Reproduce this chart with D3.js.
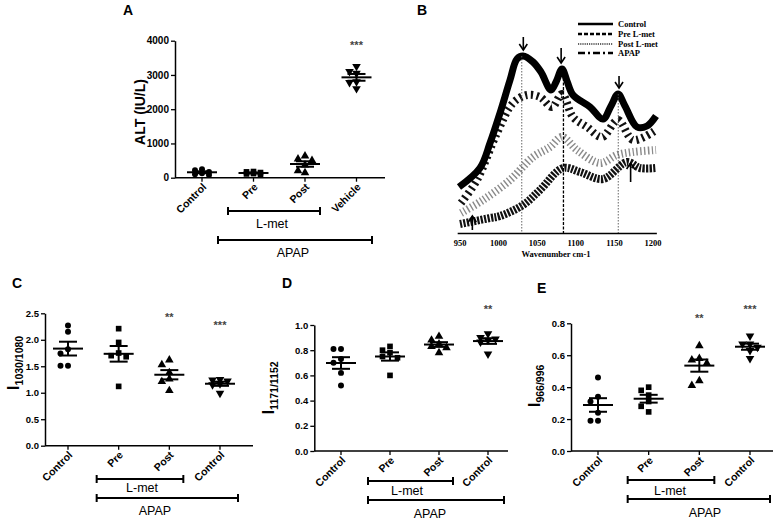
<!DOCTYPE html>
<html><head><meta charset="utf-8">
<script src="https://cdn.jsdelivr.net/npm/d3@7"></script>
<style>
body{margin:0;background:#fff}
svg{display:block;font-family:"Liberation Sans",Arial,sans-serif}
</style>
</head><body>
<svg id="c" width="781" height="520"></svg>
<script>
// ---------- DATA ----------
// Panel A: ALT (IU/L)
const catA = ["Control","Pre","Post","Vehicle"];
const altControl = [250,220,170,130,100,80];
const altPre     = [180,170,150,120,110,90];
const altPost    = [634,546,500,370,204,146];
const altVehicle = [3250,3100,3050,2800,2780,2600];
const ticksA = [0,1000,2000,3000,4000];
const starsA = ["","","","***"];

// Panels C, D, E categories
const catCDE = ["Control","Pre","Post","Control"];

// Panel C: I 1030/1080
const cControl = [2.27,2.15,1.82,1.74,1.51,1.51];
const cPre     = [2.21,1.95,1.75,1.70,1.68,1.12];
const cPost    = [1.62,1.53,1.38,1.26,1.21,1.04];
const cApap    = [1.25,1.24,1.22,1.17,1.15,0.99];
const ticksC = [0,0.5,1.0,1.5,2.0,2.5];
const starsC = ["","","**","***"];

// Panel D: I 1171/1152
const dControl = [0.81,0.81,0.73,0.70,0.62,0.52];
const dPre     = [0.83,0.80,0.78,0.75,0.74,0.60];
const dPost    = [0.91,0.88,0.85,0.83,0.82,0.78];
const dApap    = [0.93,0.90,0.89,0.88,0.865,0.77];
const ticksD = [0,0.2,0.4,0.6,0.8,1.0];
const starsD = ["","","","**"];

// Panel E: I 966/996
const eControl = [0.46,0.34,0.31,0.24,0.19,0.19];
const ePre     = [0.40,0.38,0.35,0.31,0.28,0.245];
const ePost    = [0.66,0.58,0.57,0.55,0.44,0.41];
const eApap    = [0.72,0.67,0.67,0.65,0.63,0.58];
const ticksE = [0,0.2,0.4,0.6,0.8];
const starsE = ["","","**","***"];

// Panel B: spectra [wavenumber, intensity (a.u.)]
const specControl = [[948.7,23.5],[975.9,33],[988.9,45.5],[1001.8,60.5],[1014.8,77],[1023.8,87.5],[1031.6,89],[1044.6,86],[1054.9,81],[1067.9,72],[1074.4,76],[1082.1,82.5],[1088.6,76.5],[1096.4,69.5],[1118.4,63.5],[1135.2,57.5],[1145.6,64],[1154.7,70],[1163.7,64],[1179.3,53.5],[1192.2,54],[1203.9,59]];
const specPre = [[951.3,15.5],[972,27],[997.9,50.5],[1018.7,65.5],[1036.8,69.5],[1053.6,68.5],[1069.2,63.5],[1082.1,70],[1096.4,58.5],[1114.5,53.5],[1134,48.5],[1154.7,57],[1174.1,47],[1203.9,52]];
const specPost = [[951.3,10.5],[979.8,17],[1014.8,27],[1044.6,38.5],[1066.6,43.5],[1082.1,48.5],[1101.6,42],[1131.3,35.5],[1153.4,39.5],[1174.1,41],[1203.9,42]];
const specApap = [[950,5],[988.9,8],[1001.8,9],[1031.6,14.5],[1053.6,22],[1083.4,33],[1105.4,31],[1135.2,27.5],[1166.3,36],[1183.2,33],[1203.9,33]];
const specTicks = [950,1000,1050,1100,1150,1200];
const legendLabels = ["Control","Pre L-met","Post L-met","APAP"];
const guideLines = [[1030,89],[1084,82.5],[1155,70]];            // wavenumber, top intensity
const arrowsDown = [[1032,98.5,92],[1081,93,85.5],[1156,79,73]];  // wavenumber, tail, tip
const arrowsUp   = [[1171,26,35.5],[966,2,9]];

// ---------- DRAW ----------
const svg = d3.select("#c");

function marker(shape){
  if(shape==="circle") return d3.symbol(d3.symbolCircle, 28)();
  if(shape==="square") return d3.symbol(d3.symbolSquare, 32)();
  return d3.symbol(d3.symbolTriangle, 32)();
}
const shapes = ["circle","square","triangle","triangleDown"];

function swarm(vals, y, step){
  const placed = [];
  const sorted = vals.slice().sort((a,b)=>b-a);
  const cands = [0,-step,step];
  sorted.forEach(v=>{
    const py = y(v);
    let best = null, bestD = -1;
    for(const dx of cands){
      let md = Infinity;
      placed.forEach(p=>{ md = Math.min(md, Math.hypot(p.dx-dx, p.py-py)); });
      if(md >= 6){ best = dx; bestD = Infinity; break; }
      if(md > bestD){ bestD = md; best = dx; }
    }
    placed.push({v, py, dx:best});
  });
  return placed;
}

function scatterPanel(cfg){
  const g = svg.append("g");
  const y = d3.scaleLinear().domain([cfg.ticks[0], cfg.ticks[cfg.ticks.length-1]]).range([cfg.y0, cfg.y1]);
  const x = d3.scalePoint().domain(d3.range(cfg.cats.length)).range([cfg.c0, cfg.c1]);

  // y axis
  const ya = g.append("g").attr("transform", `translate(${cfg.ax},0)`)
    .call(d3.axisLeft(y).tickValues(cfg.ticks).tickFormat(cfg.fmt).tickSize(4).tickSizeOuter(0).tickPadding(2));
  ya.attr("font-family",null).attr("font-size",null);
  ya.select(".domain").attr("stroke","#000").attr("stroke-width",1.5);
  ya.selectAll(".tick line").attr("stroke","#000").attr("stroke-width",1.3);
  ya.selectAll(".tick text").attr("font-size",cfg.tickFs).attr("font-weight","bold").attr("fill","#000");

  // x axis
  g.append("line").attr("x1",cfg.ax).attr("x2",cfg.axEnd).attr("y1",cfg.y0).attr("y2",cfg.y0)
    .attr("stroke","#000").attr("stroke-width",1.5);
  cfg.cats.forEach((c,i)=>{
    g.append("line").attr("x1",x(i)).attr("x2",x(i)).attr("y1",cfg.y0).attr("y2",cfg.y0+4)
      .attr("stroke","#000").attr("stroke-width",1.3);
    g.append("text").attr("transform",`translate(${x(i)+5},${cfg.y0+10}) rotate(-45)`)
      .attr("text-anchor","end").attr("font-size",10.5).attr("font-weight","bold").text(c);
  });

  // y title
  const t = g.append("text").attr("transform",`translate(${cfg.tx},${cfg.ty}) rotate(-90)`)
    .attr("text-anchor","middle").attr("font-weight","bold");
  if(cfg.sub){
    t.append("tspan").attr("font-size",17).text(cfg.title);
    t.append("tspan").attr("font-size",10.5).attr("dy",4).text(cfg.sub);
  } else {
    t.attr("font-size",14).text(cfg.title);
  }

  // panel letter
  g.append("text").attr("x",cfg.lx).attr("y",cfg.ly).attr("font-size",14).attr("font-weight","bold").text(cfg.letter);

  // data groups
  cfg.groups.forEach((vals,i)=>{
    const cx = x(i);
    const m = d3.mean(vals);
    const sem = d3.deviation(vals)/Math.sqrt(vals.length);
    const pts = swarm(vals, y, cfg.step||7.5);
    pts.forEach(p=>{
      g.append("path").attr("d", marker(shapes[i]))
        .attr("transform", `translate(${cx+p.dx},${p.py})` + (shapes[i]==="triangleDown" ? " rotate(180)" : ""))
        .attr("fill","#000");
    });
    g.append("line").attr("x1",cx-15).attr("x2",cx+15).attr("y1",y(m)).attr("y2",y(m)).attr("stroke","#000").attr("stroke-width",2);
    g.append("line").attr("x1",cx).attr("x2",cx).attr("y1",y(m+sem)).attr("y2",y(m-sem)).attr("stroke","#000").attr("stroke-width",2);
    [m+sem, m-sem].forEach(v=>{
      g.append("line").attr("x1",cx-9).attr("x2",cx+9).attr("y1",y(v)).attr("y2",y(v)).attr("stroke","#000").attr("stroke-width",2);
    });
    if(cfg.stars[i]){
      g.append("text").attr("x",cx).attr("y",cfg.starY[i]).attr("text-anchor","middle")
        .attr("font-size",11).attr("font-weight","bold").attr("fill","#444").text(cfg.stars[i]);
    }
  });

  // brackets
  cfg.brackets.forEach(b=>{
    const x1 = x(b.from)+b.o1, x2 = x(b.to)+b.o2;
    g.append("line").attr("x1",x1).attr("x2",x2).attr("y1",b.y).attr("y2",b.y).attr("stroke","#000").attr("stroke-width",2);
    [x1,x2].forEach(xx=>g.append("line").attr("x1",xx).attr("x2",xx).attr("y1",b.y-4).attr("y2",b.y+4).attr("stroke","#000").attr("stroke-width",2));
    g.append("text").attr("x",b.tx).attr("y",b.ty).attr("text-anchor","middle").attr("font-size",12.5).text(b.label);
  });
}

scatterPanel({letter:"A",lx:123,ly:15,cats:catA,groups:[altControl,altPre,altPost,altVehicle],
  ticks:ticksA,fmt:d3.format("d"),tickFs:10,y0:177.7,y1:40.7,ax:175,axEnd:385,c0:202,c1:356.5,
  title:"ALT (IU/L)",tx:145,ty:112,stars:starsA,starY:[0,0,0,49],step:7,
  brackets:[{from:1,to:2,o1:-25.5,o2:15,y:211,label:"L-met",tx:272,ty:228},
            {from:1,to:3,o1:-35.5,o2:15.5,y:240,label:"APAP",tx:293,ty:257}]});

scatterPanel({letter:"C",lx:12,ly:288,cats:catCDE,groups:[cControl,cPre,cPost,cApap],
  ticks:ticksC,fmt:d3.format(".1f"),tickFs:9.5,y0:445.7,y1:313.3,ax:45,axEnd:253,c0:68,c1:220,
  title:"I",sub:"1030/1080",tx:19,ty:363,stars:starsC,starY:[0,0,321,329],
  brackets:[{from:1,to:2,o1:-22,o2:14,y:479,label:"L-met",tx:142,ty:492},
            {from:1,to:3,o1:-22,o2:18,y:498,label:"APAP",tx:155,ty:515}]});

scatterPanel({letter:"D",lx:282,ly:288,cats:catCDE,groups:[dControl,dPre,dPost,dApap],
  ticks:ticksD,fmt:d3.format(".1f"),tickFs:9.5,y0:451,y1:325,ax:314.3,axEnd:508,c0:341,c1:488,
  title:"I",sub:"1171/1152",tx:274,ty:388,stars:starsD,starY:[0,0,0,313],
  brackets:[{from:1,to:2,o1:-22,o2:14,y:481,label:"L-met",tx:407,ty:495},
            {from:1,to:3,o1:-22,o2:16,y:500,label:"APAP",tx:430,ty:518}]});

scatterPanel({letter:"E",lx:537,ly:293,cats:catCDE,groups:[eControl,ePre,ePost,eApap],
  ticks:ticksE,fmt:d3.format(".1f"),tickFs:9.5,y0:451,y1:323.3,ax:571,axEnd:773,c0:598,c1:750,
  title:"I",sub:"966/996",tx:540,ty:386,stars:starsE,starY:[0,0,322,313],
  brackets:[{from:1,to:2,o1:-21,o2:15,y:480,label:"L-met",tx:670,ty:495},
            {from:1,to:3,o1:-21,o2:20,y:499,label:"APAP",tx:705,ty:517}]});

// ---------- Panel B ----------
(function(){
  const g = svg.append("g");
  const serif = "'Liberation Serif', 'Times New Roman', serif";
  const x = d3.scaleLinear().domain([950,1200]).range([460,653]);
  const y = d3.scaleLinear().domain([0,100]).range([234,34]);
  g.append("text").attr("x",417).attr("y",15).attr("font-size",14).attr("font-weight","bold").text("B");

  const line = d3.line().x(d=>x(d[0])).y(d=>y(d[1])).curve(d3.curveCatmullRom.alpha(0.5));
  const styles = [
    {data:specPost, stroke:"#8a8a8a", w:8, dash:"1.4,2.4"},
    {data:specApap, stroke:"#111", w:8, dash:"2.2,1.3"},
    {data:specPre, stroke:"#111", w:8, dash:"2.2,3.6"},
    {data:specControl, stroke:"#000", w:7, dash:null}
  ];
  styles.forEach(s=>{
    g.append("path").attr("d", line(s.data)).attr("fill","none").attr("stroke",s.stroke)
      .attr("stroke-width",s.w).attr("stroke-dasharray",s.dash).attr("stroke-linejoin","round");
  });

  // guide lines
  guideLines.forEach((d,i)=>{
    g.append("line").attr("x1",x(d[0])).attr("x2",x(d[0])).attr("y1",y(d[1])).attr("y2",y(0))
      .attr("stroke", i===1 ? "#000" : "#555").attr("stroke-width", i===1 ? 1.3 : 0.9)
      .attr("stroke-dasharray", i===1 ? "3,1.5" : "1.5,1.5");
  });

  // arrows
  function arrow(d, dir){
    const ax = x(d[0]), yt = y(d[1]), yp = y(d[2]);
    g.append("line").attr("x1",ax).attr("x2",ax).attr("y1",yt).attr("y2",yp).attr("stroke","#000").attr("stroke-width",1.6);
    const s = dir==="down" ? -1 : 1;
    g.append("path").attr("d",`M${ax-4},${yp+s*6}L${ax},${yp}L${ax+4},${yp+s*6}`)
      .attr("fill","none").attr("stroke","#000").attr("stroke-width",1.6);
  }
  arrowsDown.forEach(d=>arrow(d,"down"));
  arrowsUp.forEach(d=>arrow(d,"up"));

  // x axis
  g.append("line").attr("x1",x(947)).attr("x2",x(1205)).attr("y1",233.5).attr("y2",233.5).attr("stroke","#000").attr("stroke-width",1.3);
  specTicks.forEach(t=>{
    g.append("text").attr("x",x(t)).attr("y",246).attr("text-anchor","middle")
      .attr("font-family",serif).attr("font-weight","bold").attr("font-size",8.5).text(t);
  });
  g.append("text").attr("x",556).attr("y",257).attr("text-anchor","middle")
    .attr("font-family",serif).attr("font-weight","bold").attr("font-size",8.5).text("Wavenumber cm-1");

  // legend
  const legDash = [null,"4,2","1.2,1","7,3,2,3"];
  const legW = [2.5,2.5,1.4,2.5];
  const legCol = ["#000","#000","#333","#000"];
  const legY = [24,34,44,53];
  legendLabels.forEach((l,i)=>{
    g.append("line").attr("x1",578).attr("x2",613).attr("y1",legY[i]).attr("y2",legY[i])
      .attr("stroke",legCol[i]).attr("stroke-width",legW[i]).attr("stroke-dasharray",legDash[i]);
    g.append("text").attr("x",618).attr("y",legY[i]+3).attr("font-family",serif).attr("font-weight","bold")
      .attr("font-size",8.5).text(l);
  });
})();
</script>
</body></html>
